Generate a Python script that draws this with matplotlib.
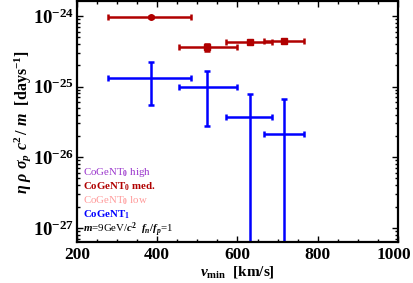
import matplotlib
matplotlib.use('Agg')
import matplotlib.pyplot as plt
import matplotlib.transforms as mtransforms
import numpy as np

# CoGeNT0 med. (dark red)
red_v = [385, 525, 630, 715]
red_vlo = [278, 455, 572, 665]
red_vhi = [485, 598, 687, 765]
red_y = [0.96e-24, 3.6e-25, 4.3e-25, 4.45e-25]
red_ylo = [0.93e-24, 3.2e-25, 4.15e-25, 4.3e-25]
red_yhi = [0.99e-24, 4.05e-25, 4.45e-25, 4.6e-25]

# CoGeNT1 (blue)
blue_v = [385, 525, 630, 715]
blue_vlo = [278, 455, 572, 665]
blue_vhi = [485, 598, 687, 765]
blue_y = [1.34e-25, 9.7e-26, 3.7e-26, 2.1e-26]
blue_ylo = [5.5e-26, 2.8e-26, 1e-30, 1e-30]
blue_yhi = [2.2e-25, 1.65e-25, 7.9e-26, 6.6e-26]

legend_lines = [
    (r'CoGeNT$_\mathbf{0}$ high', '#9933cc', 'normal'),
    (r'CoGeNT$_\mathbf{0}$ med.', '#b00000', 'bold'),
    (r'CoGeNT$_\mathbf{0}$ low', '#ff9999', 'normal'),
    (r'CoGeNT$_\mathbf{1}$', '#0000ff', 'bold'),
    (r'$m$=9GeV/$c^2$  $f_n/f_p$=1', 'black', 'normal'),
]

plt.rcParams['font.family'] = 'Liberation Serif'
plt.rcParams['mathtext.fontset'] = 'custom'
plt.rcParams['mathtext.rm'] = 'Liberation Serif:bold'
plt.rcParams['mathtext.it'] = 'Liberation Serif:bold:italic'
plt.rcParams['mathtext.bf'] = 'Liberation Serif:bold'

fig = plt.figure(figsize=(4.13, 2.83), dpi=100)
ax = fig.add_axes([0.1864, 0.1449, 0.7773, 0.8516])


def draw(v, vlo, vhi, y, ylo, yhi, color, markers):
    v = np.array(v); y = np.array(y)
    xerr = [v - np.array(vlo), np.array(vhi) - v]
    yerr = [y - np.array(ylo), np.array(yhi) - y]
    ax.errorbar(v, y, xerr=xerr, yerr=yerr, fmt='none', ecolor=color,
                elinewidth=1.8, capsize=2.5, capthick=1.8)
    for xi, yi, m in zip(v, y, markers):
        ax.plot(xi, yi, m, color=color, markersize=4)


draw(red_v, red_vlo, red_vhi, red_y, red_ylo, red_yhi, '#b00000',
     ['o', 's', 's', 's'])
draw(blue_v, blue_vlo, blue_vhi, blue_y, blue_ylo, blue_yhi, '#0000ff',
     ['', '', '', ''])

ax.set_yscale('log')
ax.set_xlim(200, 1000)
ax.set_ylim(10**-27.2, 10**-23.79)
ax.set_xticks([200, 400, 600, 800, 1000])
ax.set_xticks(np.arange(200, 1001, 50), minor=True)
ax.set_yticks([1e-27, 1e-26, 1e-25, 1e-24])
ax.set_yticklabels([r'$\mathbf{10^{-27}}$', r'$\mathbf{10^{-26}}$',
                    r'$\mathbf{10^{-25}}$', r'$\mathbf{10^{-24}}$'])
ax.tick_params(which='both', direction='in', top=True, right=True,
               labelsize=12.5, width=1)
ax.tick_params(axis='y', labelsize=13.5, pad=2)
ax.tick_params(which='major', length=4)
ax.tick_params(which='minor', length=2)
for lab in ax.get_xticklabels():
    lab.set_fontweight('bold')
# keep the last x label inside the figure
last = ax.get_xticklabels()[-1]
last.set_transform(last.get_transform() +
                   mtransforms.ScaledTranslation(-4 / 100, 0, fig.dpi_scale_trans))
for s in ax.spines.values():
    s.set_linewidth(1.6)

ax.set_xlabel(r'$v_{\mathrm{min}}$  [km/s]', fontsize=11, fontweight='bold',
              labelpad=1)
ax.set_ylabel(r'$\eta\ \rho\ \sigma_p\ c^2\, /\ m$  [days$^{-1}$]',
              fontsize=11.5, fontweight='bold', labelpad=0)

y0 = 0.288
for i, (txt, col, w) in enumerate(legend_lines):
    ax.text(0.018, y0 - i * 0.059, txt, transform=ax.transAxes, color=col,
            fontsize=7.8, fontweight=w, va='center', ha='left')

fig.savefig('out.png', dpi=100)
